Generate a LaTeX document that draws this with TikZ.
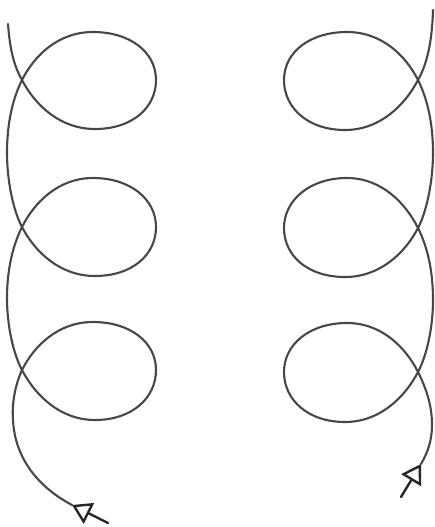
\documentclass[tikz,border=0pt]{standalone}
\usepackage{tikz}
\usepackage{xcolor}
\usetikzlibrary{arrows.meta}

\begin{document}
\begin{tikzpicture}[x=1pt,y=-1pt,
  coil/.style={draw=black!72, line width=2.1pt, line cap=round},
  pointer/.style={draw=black!85, line width=2.4pt, line cap=round,
    -{Triangle[open,length=19pt,width=23pt]}}]

% Frame
\useasboundingbox (0,0) rectangle (434,527);

% Left coil, loops open to the right
\draw[coil] (8,24) .. controls (10,50) and (14,66) .. (22,80)
  .. controls (35,105) and (60,129) .. (95,129)
  .. controls (132,129) and (156,108) .. (156,80)
  .. controls (156,52) and (130,32) .. (93,32)
  .. controls (58,32) and (34,56) .. (22,80)
  .. controls (12,100) and (7,125) .. (7,153)
  .. controls (7,180) and (13,210) .. (22,227)
  .. controls (35,252) and (60,276) .. (95,276)
  .. controls (132,276) and (156,255) .. (156,227)
  .. controls (156,199) and (130,178) .. (93,178)
  .. controls (58,178) and (34,203) .. (22,227)
  .. controls (12,247) and (7,272) .. (7,298)
  .. controls (7,325) and (13,353) .. (22,370)
  .. controls (35,395) and (60,420) .. (95,420)
  .. controls (132,420) and (156,398) .. (156,370)
  .. controls (156,342) and (130,322) .. (93,322)
  .. controls (58,322) and (34,346) .. (22,370)
  .. controls (14,388) and (12,405) .. (13,420)
  .. controls (15,460) and (40,488) .. (72,505);

% Right coil, loops open to the left
\draw[coil] (433,10) .. controls (432,45) and (426,66) .. (418,80)
  .. controls (405,105) and (380,130) .. (345,130)
  .. controls (308,130) and (284,108) .. (284,80)
  .. controls (284,52) and (310,32) .. (347,32)
  .. controls (382,32) and (406,56) .. (418,80)
  .. controls (428,100) and (433,125) .. (433,153)
  .. controls (433,180) and (427,211) .. (418,228)
  .. controls (405,253) and (380,277) .. (345,277)
  .. controls (308,277) and (284,256) .. (284,228)
  .. controls (284,200) and (310,178) .. (347,178)
  .. controls (382,178) and (406,204) .. (418,228)
  .. controls (428,248) and (433,272) .. (433,300)
  .. controls (433,327) and (427,355) .. (418,372)
  .. controls (405,397) and (380,422) .. (345,422)
  .. controls (308,422) and (284,400) .. (284,372)
  .. controls (284,344) and (310,323) .. (347,323)
  .. controls (382,323) and (406,348) .. (418,372)
  .. controls (426,388) and (432,405) .. (432,425)
  .. controls (432,440) and (428,452) .. (421,464);

% Arrow ends
\coordinate (ltail) at (108,523);
\coordinate (ltip) at (72,505);
\coordinate (rtail) at (401,497);
\coordinate (rtip) at (421,464);
\draw[pointer] (ltail) -- (ltip);
\draw[pointer] (rtail) -- (rtip);

\end{tikzpicture}
\end{document}
